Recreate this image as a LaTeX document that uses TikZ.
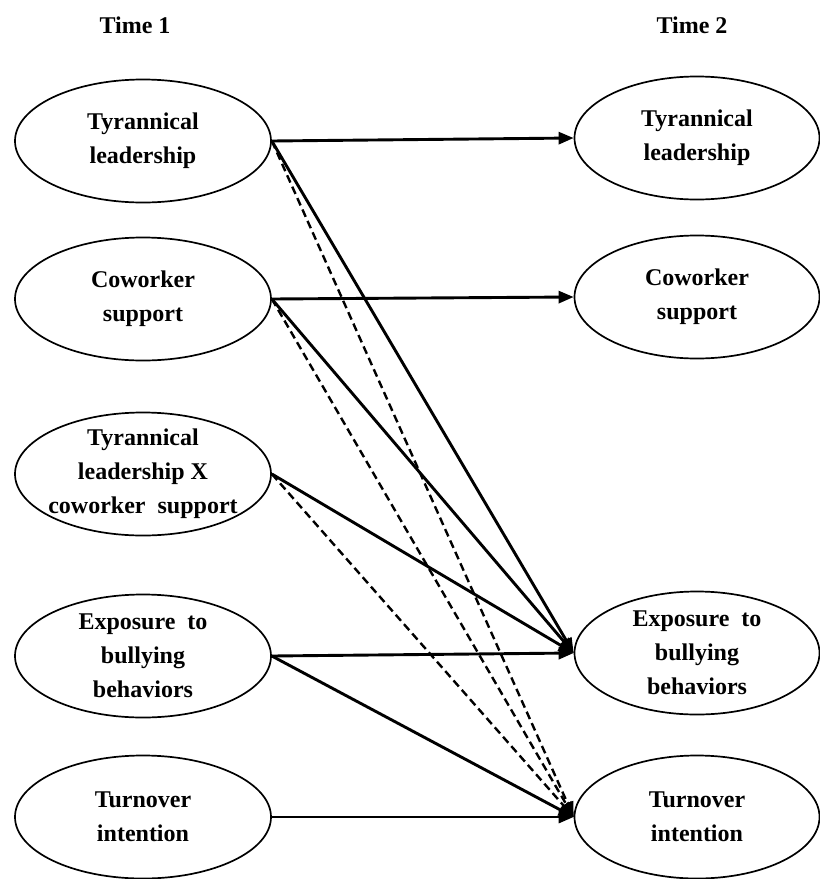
\documentclass[tikz,border=0pt]{standalone}
\usepackage{fontspec}
\setmainfont{Liberation Serif}
\usepackage{tikz}
\usetikzlibrary{calc,shapes,positioning}
\usetikzlibrary{arrows.meta}
\tikzset{>={Triangle[width=12pt,length=15pt]}}

\begin{document}
\begin{tikzpicture}[x=1pt, y=-1pt]
          \tikzstyle{lnode} = [draw, ellipse, line width=1.7pt, minimum width=256pt, minimum height=123pt, inner sep=0pt, align=center, font=\bfseries\fontsize{24}{34}\selectfont]
          \tikzstyle{rnode} = [lnode, minimum width=245pt]
          \tikzstyle{tnode} = [inner sep=0pt, font=\bfseries\fontsize{24}{34}\selectfont]
          \tikzstyle{path} = [->, line width=2.9pt]
          \tikzstyle{npath} = [->, line width=2.4pt, dash pattern=on 8pt off 4.5pt]

          \useasboundingbox (0,0) rectangle (820,879);

          % time 1
          \node[tnode] (time1) at (135, 25) {Time 1};
          \node[lnode] (x1) at (143, 141) {Tyrannical\\leadership};
          \node[lnode] (x2) at (143, 299) {Coworker\\support};
          \node[lnode, inner xsep=-4.5pt, inner ysep=-2pt] (x3) at (143, 474) {Tyrannical\\leadership X\\coworker\ \ support};
          \node[lnode] (x4) at (143, 656) {Exposure\ \ to\\bullying\\behaviors};
          \node[lnode] (x5) at (143, 817) {Turnover\\intention};

          % time 2
          \node[tnode] (time2) at (692, 25) {Time 2};
          \node[rnode] (y1) at (697, 138) {Tyrannical\\leadership};
          \node[rnode] (y2) at (697, 297) {Coworker\\support};
          \node[rnode] (y3) at (697, 653) {Exposure\ \ to\\bullying\\behaviors};
          \node[rnode] (y4) at (697, 817) {Turnover\\intention};

          \draw[path] (x1.east) -- (y1.west);
          \draw[path] (x2.east) -- (y2.west);
          \draw[path] (x4.east) -- (y3.west);
          \draw[path] (x5.east) -- (y4.west);

          \draw[path] (x1.east) -- (y3.west);
          \draw[path] (x2.east) -- (y3.west);
          \draw[path] (x3.east) -- (y3.west);
          \draw[path] (x4.east) -- (y4.west);

          \draw[npath] (x1.east) -- (y4.west);
          \draw[npath] (x2.east) -- (y4.west);
          \draw[npath] (x3.east) -- (y4.west);
        \end{tikzpicture}
\end{document}
